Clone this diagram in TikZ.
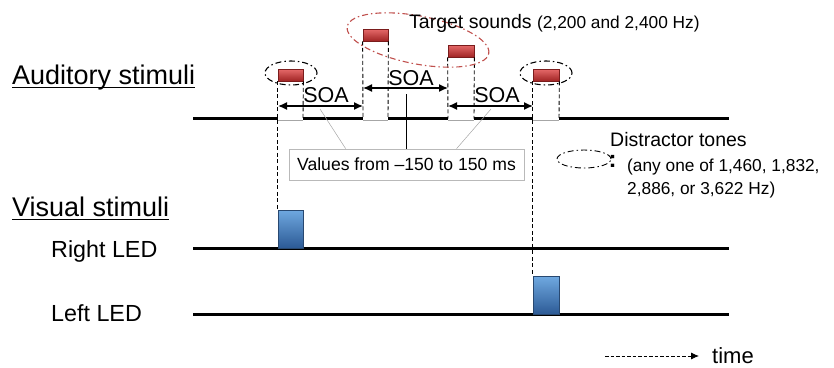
\documentclass[tikz,border=0pt]{standalone}
\usepackage{fontspec}
\setmainfont{Liberation Sans}
\usetikzlibrary{arrows.meta,shapes.geometric,calc}
\newcommand\fsz[1]{\fontsize{#1}{#1}\selectfont}
\definecolor{redtop}{HTML}{E66A6A}
\definecolor{redmid}{HTML}{C92F2F}
\definecolor{redbot}{HTML}{A02424}
\definecolor{redbd}{HTML}{7A1C1C}
\definecolor{bluetop}{HTML}{6FA8E0}
\definecolor{bluemid}{HTML}{3A78C2}
\definecolor{bluebot}{HTML}{2C5A95}
\definecolor{bluebd}{HTML}{284870}
\definecolor{ellred}{HTML}{C0504D}
\tikzset{
  thickbase/.style={line width=3.3pt, black},
  thinbase/.style={line width=0.5pt, gray!70},
  vdash/.style={line width=0.9pt, dash pattern=on 4pt off 2.5pt},
  soaarrow/.style={line width=1.4pt, {Latex[length=9pt,width=8pt]}-{Latex[length=9pt,width=8pt]}},
  redbox/.style={draw=redbd, line width=0.7pt, top color=redtop, middle color=redmid, bottom color=redbot, inner sep=0pt, minimum height=12pt},
  bluebox/.style={draw=bluebd, line width=0.7pt, top color=bluetop, middle color=bluemid, bottom color=bluebot, inner sep=0pt},
  dashdot/.style={draw, ellipse, inner sep=0pt, line width=1.1pt, dash pattern=on 6pt off 3pt on 1.5pt off 3pt},
  lbl/.style={inner sep=0pt, anchor=base west},
  ulline/.style={line width=1pt},
  calloutline/.style={line width=0.5pt, gray!70},
}
\begin{document}
\begin{tikzpicture}[x=1pt,y=-1pt]
\useasboundingbox (0,0) rectangle (834,367);

% labels
\node[lbl, font=\fsz{27}] (aud) at (12,84) {Auditory stimuli};
\draw[ulline] ($(aud.base west)+(0,3)$) -- ($(aud.base east)+(0,3)$);
\node[lbl, font=\fsz{27}] (vis) at (12,216) {Visual stimuli};
\draw[ulline] ($(vis.base west)+(0,3)$) -- ($(vis.base east)+(0,3)$);
\node[lbl, font=\fsz{23.3}] (rled) at (51,257) {Right LED};
\node[lbl, font=\fsz{23.3}] (lled) at (51,321.5) {Left LED};

% auditory baseline
\coordinate (a0) at (193,118.7);
\coordinate (a1) at (278,118.7);
\coordinate (a2) at (303,118.7);
\coordinate (a3) at (363,118.7);
\coordinate (a4) at (388,118.7);
\coordinate (a5) at (448,118.7);
\coordinate (a6) at (474,118.7);
\coordinate (a7) at (533,118.7);
\coordinate (a8) at (559,118.7);
\coordinate (a9) at (729,118.7);
\draw[thickbase] (a0) -- (a1) (a2) -- (a3) (a4) -- (a5) (a6) -- (a7) (a8) -- (a9);
\draw[thinbase] ([yshift=-1.3pt]a1) -- ([yshift=-1.3pt]a2)
  ([yshift=-1.3pt]a3) -- ([yshift=-1.3pt]a4)
  ([yshift=-1.3pt]a5) -- ([yshift=-1.3pt]a6)
  ([yshift=-1.3pt]a7) -- ([yshift=-1.3pt]a8);

% LED baselines
\coordinate (r0) at (193,248.5);
\coordinate (r1) at (729,248.5);
\coordinate (l0) at (193,314.3);
\coordinate (l1) at (729,314.3);
\draw[thickbase] (r0) -- (r1);
\draw[thickbase] (l0) -- (l1);

% sound boxes
\node[redbox, minimum width=25pt] (s1) at (290.5,75) {};
\node[redbox, minimum width=25pt] (s2) at (375.5,35) {};
\node[redbox, minimum width=26pt] (s3) at (461,51) {};
\node[redbox, minimum width=26pt] (s4) at (546,75) {};

% LED boxes
\node[bluebox, minimum width=25pt, minimum height=38pt] (v1) at (290.5,229) {};
\node[bluebox, minimum width=26pt, minimum height=38pt] (v2) at (546,295.5) {};

% dashed verticals
\draw[vdash] (s1.south west) -- (v1.north west);
\draw[vdash] (s1.south east) -- (a2);
\draw[vdash] (s2.south west) -- (a3);
\draw[vdash] (s2.south east) -- (a4);
\draw[vdash] (s3.south west) -- (a5);
\draw[vdash] (s3.south east) -- (a6);
\draw[vdash] (s4.south west) -- (v2.north west);
\draw[vdash] (s4.south east) -- (a8);

% SOA arrows
\coordinate (p1) at (278,106);
\coordinate (p2) at (363,106);
\coordinate (p3) at (363,88);
\coordinate (p4) at (448,88);
\coordinate (p5) at (448,106);
\coordinate (p6) at (533,106);
\draw[soaarrow] (p1) -- (p2);
\draw[soaarrow] (p3) -- (p4);
\draw[soaarrow] (p5) -- (p6);
\node[inner sep=0pt, font=\fsz{21.5}] (soa1) at (326,95) {SOA};
\node[inner sep=0pt, font=\fsz{21.5}] (soa2) at (411,78) {SOA};
\node[inner sep=0pt, font=\fsz{21.5}] (soa3) at (497,95) {SOA};

% callout
\node[draw=gray!55, line width=0.8pt, minimum width=235pt, minimum height=31pt, inner sep=0pt, font=\fsz{17.6}] (cb) at (406.5,164.5) {Values from \textendash150 to 150 ms};
\coordinate (c1) at (320,109);
\coordinate (c2) at (406,94);
\coordinate (c3) at (491,109);
\draw[calloutline] (c1) -- ($(cb.north west)+(57,0)$);
\draw[line width=0.8pt] (c2) -- (cb.north -| c2);
\draw[calloutline] (c3) -- ($(cb.north west)+(168,0)$);

% ellipses
\node[dashdot, draw=ellred, minimum width=144pt, minimum height=48pt, rotate=-10.8] (te) at (418,40) {};
\node[dashdot, minimum width=52pt, minimum height=24pt] (d1) at (291,73) {};
\node[dashdot, minimum width=52pt, minimum height=24pt] (d4) at (546,73) {};

% target text
\node[lbl] (tt) at (409,28) {\fsz{19.5}Target sounds \fsz{17.3}(2,200 and 2,400 Hz)};

% legend
\node[lbl, font=\fsz{19.5}] (dt) at (610,146.5) {Distractor tones};
\node[dashdot, line width=0.9pt, minimum width=54pt, minimum height=18pt] (ld) at (584,159) {};
\node[inner sep=0pt, anchor=base, font=\fsz{24}\bfseries] (colon) at (612.5,167) {:};
\node[lbl, font=\fsz{17.3}] (dl1) at (627,171) {(any one of 1,460, 1,832,};
\node[lbl, font=\fsz{17.3}] (dl2) at (627,194) {2,886, or 3,622 Hz)};

% time
\node[lbl, font=\fsz{22}] (tm) at (712,363) {time};
\coordinate (t0) at (605,356);
\coordinate (t1) at (699,356);
\draw[line width=0.8pt, dash pattern=on 3.5pt off 2pt, -{Latex[length=8pt,width=7pt]}] (t0) -- (t1);
\end{tikzpicture}
\end{document}
